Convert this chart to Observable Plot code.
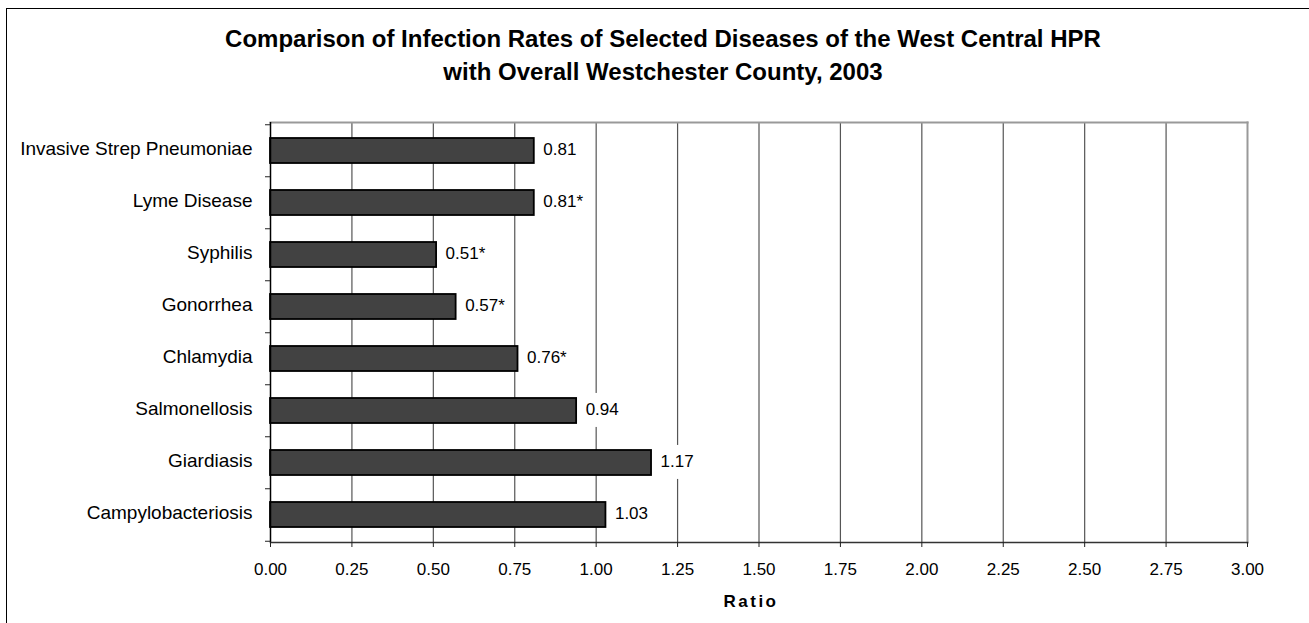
<!DOCTYPE html>
<html>
<head>
<meta charset="utf-8">
<script src="https://cdn.jsdelivr.net/npm/d3@7"></script>
<script src="https://cdn.jsdelivr.net/npm/@observablehq/plot@0.6"></script>
<style>
  html, body { margin: 0; padding: 0; background: #fff; overflow: hidden; width: 1309px; height: 623px; }
  #frame { position: absolute; left: 6px; top: 8px; width: 1320px; height: 650px; border: 1px solid #000; box-sizing: border-box; z-index: 5; pointer-events: none; }
  #title { position: absolute; left: 6px; top: 22px; width: 1314px; text-align: center;
    font-family: "Liberation Sans", Arial, sans-serif; font-weight: bold; font-size: 24px; line-height: 33px; color: #000; }
  #chart { position: absolute; left: 0; top: 100px; }
</style>
</head>
<body>
<div id="title">Comparison of Infection Rates of Selected Diseases of the West Central HPR<br>with Overall Westchester County, 2003</div>
<div id="chart"></div>
<div id="frame"></div>
<script>
const categories = ["Invasive Strep Pneumoniae", "Lyme Disease", "Syphilis", "Gonorrhea", "Chlamydia", "Salmonellosis", "Giardiasis", "Campylobacteriosis"];
const ratios = [0.81, 0.81, 0.51, 0.57, 0.76, 0.94, 1.17, 1.03];
const significant = [false, true, true, true, true, false, false, false];
const xTicks = [0, 0.25, 0.5, 0.75, 1, 1.25, 1.5, 1.75, 2, 2.25, 2.5, 2.75, 3];
const axisTitle = "Ratio";

const data = categories.map((name, i) => ({
  name, value: ratios[i],
  label: d3.format(".2f")(ratios[i]) + (significant[i] ? "*" : "")
}));

const W = 1309, H = 523, mt = 22, mb = 81, ml = 270, mr = 62;
const step = (H - mt - mb) / categories.length;
const font = '"Liberation Sans", Arial, sans-serif';

const chart = Plot.plot({
  width: W, height: H,
  marginTop: mt, marginBottom: mb, marginLeft: ml, marginRight: mr,
  style: { fontFamily: font, fontSize: "17px", color: "#000", background: "transparent" },
  x: { domain: [0, 3], ticks: xTicks },
  y: { domain: categories, paddingInner: 0.52, paddingOuter: 0.26 },
  marks: [
    Plot.ruleX(xTicks.filter(t => t > 0 && t < 3), { stroke: "#555", strokeWidth: 1.2 }),
    Plot.frame({ anchor: "top", stroke: "#999", strokeWidth: 2 }),
    Plot.frame({ anchor: "right", stroke: "#999", strokeWidth: 2 }),
    Plot.barX(data, { x: "value", y: "name", fill: "#424242", stroke: "#000", strokeWidth: 1.8 }),
    Plot.ruleX([0], { stroke: "#000", strokeWidth: 1.5 }),
    Plot.frame({ anchor: "bottom", stroke: "#333", strokeWidth: 1.6 }),
    Plot.axisX({ ticks: xTicks, tickFormat: d3.format(".2f"), tickSize: 5, tickPadding: 15, label: null, stroke: "#222", fontSize: 17 }),
    Plot.axisY({ tickSize: 0, tickPadding: 18, label: null, fontSize: 19, dy: -2 }),
    Plot.axisY({ tickSize: 5, text: null, label: null, dy: -step / 2, stroke: "#222" }),
    Plot.axisY({ ticks: [categories[categories.length - 1]], tickSize: 5, text: null, label: null, dy: step / 2, stroke: "#222" }),
    Plot.text(data, { x: "value", y: "name", text: "label", textAnchor: "start", dx: 9, dy: -1, fontSize: 17, fill: "#000" }),
    Plot.text([axisTitle], { frameAnchor: "bottom", dy: 64, dx: -8, fontSize: 17, fontWeight: "bold", fill: "#000" })
  ]
});

document.getElementById("chart").appendChild(chart);

// white backgrounds behind value labels (as in the original chart)
const textGroups = chart.querySelectorAll('g[aria-label="text"]');
const labelGroup = textGroups[0];
if (labelGroup) {
  labelGroup.querySelectorAll("text").forEach(t => {
    const bb = t.getBBox();
    const r = document.createElementNS("http://www.w3.org/2000/svg", "rect");
    const cy = bb.y + bb.height / 2;
    r.setAttribute("x", bb.x - 3);
    r.setAttribute("y", cy - 17);
    r.setAttribute("width", bb.width + 6);
    r.setAttribute("height", 34);
    r.setAttribute("fill", "#fff");
    r.setAttribute("stroke", "none");
    if (t.getAttribute("transform")) r.setAttribute("transform", t.getAttribute("transform"));
    labelGroup.insertBefore(r, t);
  });
}
// letter spacing for axis title
const titleGroup = textGroups[textGroups.length - 1];
if (titleGroup) titleGroup.setAttribute("letter-spacing", "2.5px");
</script>
</body>
</html>
